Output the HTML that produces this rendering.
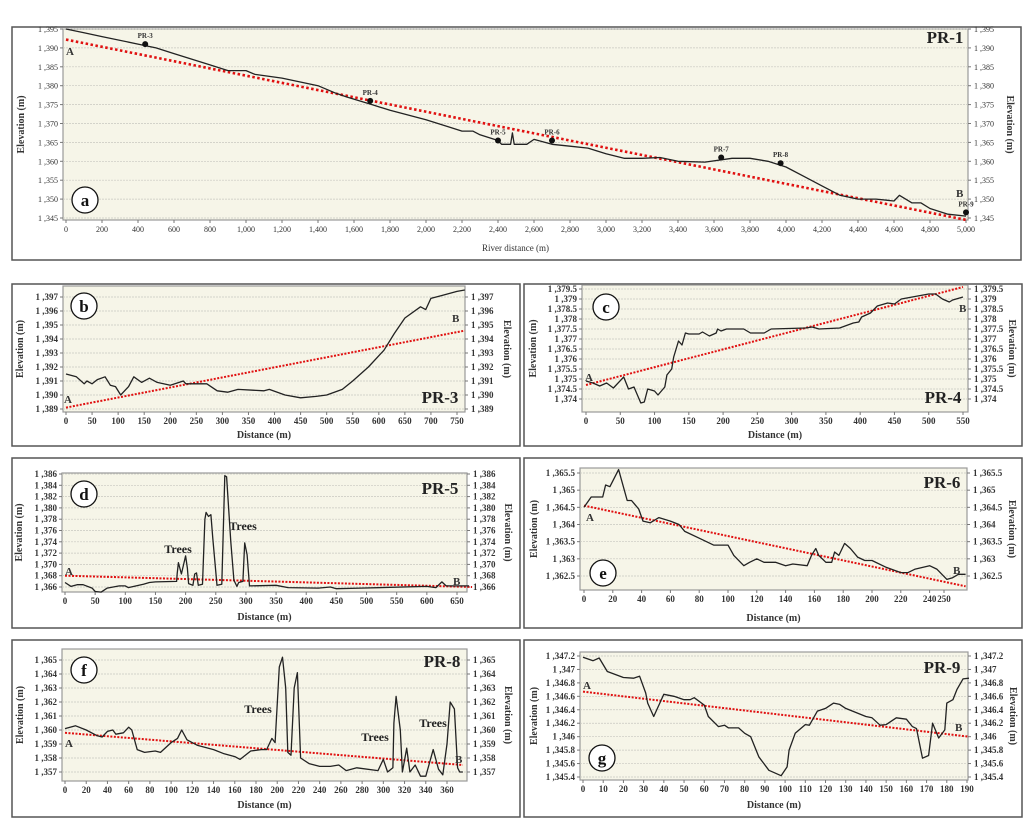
<!DOCTYPE html>
<html><head><meta charset="utf-8">
<style>
body{margin:0;background:#fff;width:1033px;height:828px;overflow:hidden;font-family:"Liberation Serif",serif}
svg{display:block}
</style></head>
<body>
<svg id="fig" width="1033" height="828" xmlns="http://www.w3.org/2000/svg"></svg>
<script>
// ---- data arrays ----
const aDist=[0,100,200,400,500,600,700,800,900,1000,1050,1200,1400,1500,1560,1700,1800,2000,2200,2260,2300,2400,2420,2470,2480,2490,2560,2600,2700,2800,2900,3000,3100,3200,3300,3400,3550,3700,3800,3900,4000,4100,4200,4300,4400,4500,4600,4630,4700,4750,4800,4900,5000];
const aElev=[1395,1394,1393,1391,1390,1388.5,1387,1385.5,1384,1384,1383,1382,1380,1378,1377,1375,1373.5,1371,1368,1368,1367,1365.5,1364.5,1364.5,1367.5,1364.5,1364.5,1365.8,1364.5,1364,1363.5,1362,1360.8,1360.8,1361,1360,1359.8,1360.8,1360.8,1360,1358.5,1356,1353.5,1351,1350,1350,1349.5,1351,1349,1349,1347.5,1346,1345.5];
const aTrendX=[0,5000];const aTrendY=[1392.2,1344.5];
const aSiteNames=["PR-3","PR-4","PR-5","PR-6","PR-7","PR-8","PR-9"];
const aSiteDist=[440,1690,2400,2700,3640,3970,5000];
const aSiteElev=[1391,1376,1365.5,1365.5,1361,1359.5,1346.5];
const aXTicks=[0,200,400,600,800,1000,1200,1400,1600,1800,2000,2200,2400,2600,2800,3000,3200,3400,3600,3800,4000,4200,4400,4600,4800,5000];
const aYTicks=[1345,1350,1355,1360,1365,1370,1375,1380,1385,1390,1395];

const bDist=[0,20,35,40,50,60,75,85,95,105,110,120,130,145,160,175,200,225,230,270,290,310,330,380,390,420,450,480,500,530,550,580,610,630,650,680,690,700,720,750,765];
const bElev=[1391.5,1391.3,1390.8,1391,1390.8,1391.1,1391.3,1390.7,1390.6,1390,1390.2,1390.6,1391.3,1390.9,1391.2,1390.9,1390.7,1391,1390.8,1390.8,1390.3,1390.2,1390.4,1390.3,1390.4,1390,1389.8,1389.9,1390,1390.4,1391,1392,1393.2,1394.4,1395.5,1396.3,1396.1,1396.9,1397.1,1397.4,1397.5];
const bTrendX=[0,765];const bTrendY=[1389.1,1394.6];
const bXTicks=[0,50,100,150,200,250,300,350,400,450,500,550,600,650,700,750];
const bYTicks=[1389,1390,1391,1392,1393,1394,1395,1396,1397];

const cDist=[0,10,20,30,40,55,62,70,80,85,90,100,105,115,118,125,128,135,140,145,150,165,170,180,190,192,197,205,230,240,260,270,320,330,340,370,390,398,402,415,425,440,450,460,500,510,520,530,535,550];
const cElev=[1374.9,1374.8,1374.65,1374.8,1374.55,1375.1,1374.5,1374.6,1373.8,1373.85,1374.5,1374.4,1374.2,1374.6,1375.2,1375.5,1376.1,1376.9,1376.7,1377.3,1377.25,1377.25,1377.35,1377.15,1377.3,1377.5,1377.4,1377.5,1377.5,1377.3,1377.3,1377.5,1377.55,1377.6,1377.5,1377.55,1377.8,1377.85,1378.1,1378.3,1378.65,1378.8,1378.75,1379,1379.25,1379.25,1379,1378.85,1378.95,1379.1];
const cTrendX=[0,550];const cTrendY=[1374.7,1379.6];
const cXTicks=[0,50,100,150,200,250,300,350,400,450,500,550];
const cYTicks=[1374,1374.5,1375,1375.5,1376,1376.5,1377,1377.5,1378,1378.5,1379,1379.5];

const dDist=[0,10,20,30,45,50,60,70,80,90,100,105,130,140,150,185,186,188,193,200,203,205,212,215,218,221,228,232,234,238,242,245,252,260,265,268,275,280,285,288,295,298,302,306,350,370,420,440,450,490,600,615,625,632,670];
const dElev=[1366.8,1366.1,1366.4,1366.4,1365.8,1365.2,1365.1,1365.8,1366,1366.2,1366.2,1365.9,1366.5,1366.8,1366.9,1367,1368.4,1370.3,1368.3,1371.5,1369.3,1366.6,1366.3,1368.3,1368.5,1366.3,1366.5,1378,1379.2,1378.5,1378.8,1374.6,1366.3,1366.5,1385.7,1385.5,1374,1367.2,1366.1,1366.8,1367,1373.8,1371.7,1366.2,1366.3,1365.9,1365.8,1366,1365.7,1365.8,1366.1,1365.9,1366.9,1366.2,1366.2];
const dTrendX=[0,675];const dTrendY=[1368,1366];
const dXTicks=[0,50,100,150,200,250,300,350,400,450,500,550,600,650];
const dYTicks=[1366,1368,1370,1372,1374,1376,1378,1380,1382,1384,1386];

const eDist=[0,5,13,15,18,24,30,33,38,41,46,52,60,66,70,80,90,100,104,111,115,120,125,133,140,145,155,158,161,163,168,172,174,177,181,185,190,195,200,210,220,225,230,240,245,252,256,260,265];
const eElev=[1364.5,1364.8,1364.8,1365.15,1365.1,1365.6,1364.7,1364.7,1364.45,1364.1,1364.05,1364.2,1364.1,1364,1363.8,1363.6,1363.4,1363.4,1363.1,1362.8,1362.9,1363,1362.9,1362.9,1362.8,1362.85,1362.8,1363.1,1363.3,1363.1,1362.9,1362.9,1363.2,1363.1,1363.45,1363.3,1363.05,1362.95,1362.95,1362.75,1362.6,1362.6,1362.7,1362.8,1362.7,1362.4,1362.45,1362.55,1362.55];
const eTrendX=[0,265];const eTrendY=[1364.55,1362.2];
const eXTicks=[0,20,40,60,80,100,120,140,160,180,200,220,240,250];
const eYTicks=[1362.5,1363,1363.5,1364,1364.5,1365,1365.5];

const fDist=[0,10,20,30,35,40,45,48,55,60,63,68,75,85,90,100,106,110,115,125,140,150,160,165,175,185,190,195,198,202,205,208,210,213,216,219,222,230,240,250,258,265,275,295,300,304,309,310,312,316,318,322,325,330,335,340,347,352,356,360,363,367,370,372,375];
const fElev=[1360.1,1360.3,1360,1359.6,1359.5,1359.9,1360,1359.7,1359.8,1360.2,1360,1358.6,1358.4,1358.5,1358.4,1359.1,1359.4,1360,1359.3,1358.9,1358.6,1358.3,1358.1,1357.9,1358.5,1358.6,1358.6,1359.4,1359.1,1364.5,1365.2,1363,1358.4,1358.2,1363,1364.1,1358,1357.6,1357.4,1357.4,1357.5,1357.1,1357.3,1357.1,1357.9,1357,1357.3,1360.5,1362.4,1360,1357,1358.7,1357,1357.5,1356.7,1356.7,1358.6,1357.2,1356.8,1359,1362,1361.5,1357.3,1357,1357];
const fTrendX=[0,375];const fTrendY=[1359.8,1357.5];
const fXTicks=[0,20,40,60,80,100,120,140,160,180,200,220,240,260,280,300,320,340,360];
const fYTicks=[1357,1358,1359,1360,1361,1362,1363,1364,1365];

const gDist=[0,5,8,12,20,25,28,31,32,35,38,40,45,50,53,55,60,62,67,70,72,77,80,83,87,92,98,101,102,105,110,112,116,120,124,127,130,140,143,147,150,155,160,163,165,168,171,173,176,179,180,183,185,188,191];
const gElev=[1347.18,1347.13,1347.17,1346.97,1346.88,1346.87,1346.9,1346.65,1346.5,1346.3,1346.5,1346.63,1346.6,1346.55,1346.55,1346.58,1346.47,1346.3,1346.15,1346.17,1346.13,1346.13,1346.05,1346,1345.7,1345.5,1345.42,1345.55,1345.8,1346.05,1346.18,1346.17,1346.38,1346.42,1346.5,1346.48,1346.42,1346.3,1346.28,1346.17,1346.18,1346.28,1346.26,1346.15,1346.12,1345.68,1345.72,1346.2,1345.98,1346.1,1346.5,1346.55,1346.7,1346.86,1346.87];
const gTrendX=[0,191];const gTrendY=[1346.67,1346.0];
const gXTicks=[0,10,20,30,40,50,60,70,80,90,100,110,120,130,140,150,160,170,180,190];
const gYTicks=[1345.4,1345.6,1345.8,1346,1346.2,1346.4,1346.6,1346.8,1347,1347.2];

// ---- drawing ----
const NS="http://www.w3.org/2000/svg";
const svg=document.getElementById('fig');
function mk(tag,attrs,parent,text){const e=document.createElementNS(NS,tag);for(const k in attrs)e.setAttribute(k,attrs[k]);if(text!==undefined)e.textContent=text;(parent||svg).appendChild(e);return e;}
function fmt(v){let s=(Math.round((v-1000)*10)/10).toString();return "1 ,"+s;}

function panel(c){
  const g=mk('g',{});
  
  
  const box=mk('rect',{x:c.box[0],y:c.box[1],width:c.box[2]-c.box[0],height:c.box[3]-c.box[1],fill:'#fff',stroke:'#555','stroke-width':1.5},g);
  
  
  const [pl,pt,pr,pb]=c.plot;
  const bg=mk('rect',{x:pl,y:pt,width:pr-pl,height:pb-pt,fill:'#f6f5e8',stroke:'#999','stroke-width':1.2},g);
  
  
  const sx=v=>c.x0+(v-c.xd[0])/(c.xd[1]-c.xd[0])*(c.x1-c.x0);
  const sy=v=>c.y0+(v-c.yd[0])/(c.yd[1]-c.yd[0])*(c.y1-c.y0);
  const fs=c.fs||9;
  c.yt.forEach(v=>{
    const y=sy(v);
    mk('line',{x1:pl,x2:pr,y1:y,y2:y,stroke:'#c8c8c0','stroke-width':0.7,'stroke-dasharray':'2,1'},g);
    mk('line',{x1:pl-3,x2:pl,y1:y,y2:y,stroke:'#777'},g);
    mk('line',{x1:pr,x2:pr+3,y1:y,y2:y,stroke:'#777'},g);
    const t1=mk('text',{x:pl-5,y:y+3,'font-size':fs,'text-anchor':'end','font-weight':c.bold?'bold':'normal',fill:'#333'},g,fmt(v));
    
    
    const t2=mk('text',{x:pr+6,y:y+3,'font-size':fs,'font-weight':c.bold?'bold':'normal',fill:'#333'},g,fmt(v));
    
    
  });
  c.xt.forEach(v=>{
    const x=sx(v);
    mk('line',{x1:x,x2:x,y1:pb,y2:pb+3,stroke:'#777'},g);
    const t=mk('text',{x:x,y:pb+12,'font-size':fs,'text-anchor':'middle','font-weight':c.bold?'bold':'normal',fill:'#333'},g,v>=1000?v.toLocaleString('en-US'):String(v));
    
    
  });
  // trend
  const tr=mk('line',{x1:sx(c.tx[0]),y1:sy(c.ty[0]),x2:sx(c.tx[1]),y2:sy(c.ty[1]),stroke:'#e01010','stroke-width':c.id==='a'?2.6:2,'stroke-dasharray':c.id==='a'?'2.5,2.5':'2,1.5'},g);
  
  
  const pts=c.dx.map((d,i)=>sx(d).toFixed(1)+','+sy(c.dy[i]).toFixed(1)).join(' ');
  const pl2=mk('polyline',{points:pts,fill:'none',stroke:'#222','stroke-width':1.3,'stroke-linejoin':'round'},g);
  
  
  // axis titles
  const xt=mk('text',{x:(pl+pr)/2,y:c.xtY,'font-size':c.id==='a'?9:10,'text-anchor':'middle','font-weight':c.id==='a'?'normal':'bold',fill:'#333'},g,c.xTitle);
  
  
  const my=(pt+pb)/2;
  const yl=mk('text',{x:0,y:0,transform:`translate(${c.ylX},${my}) rotate(-90)`,'font-size':10,'text-anchor':'middle','font-weight':'bold',fill:'#333'},g,'Elevation (m)');
  
  
  const yr=mk('text',{x:0,y:0,transform:`translate(${c.yrX},${my}) rotate(90)`,'font-size':10,'text-anchor':'middle','font-weight':'bold',fill:'#333'},g,'Elevation (m)');
  
  
  // panel letter
  const ci=mk('circle',{cx:c.circ[0],cy:c.circ[1],r:13,fill:'#fff',stroke:'#111','stroke-width':1.3},g);
  
  
  const lt=mk('text',{x:c.circ[0],y:c.circ[1]+6,'font-size':17,'text-anchor':'middle','font-weight':'bold',fill:'#111'},g,c.id);
  
  
  const pt2=mk('text',{x:c.title[0],y:c.title[1],'font-size':17,'text-anchor':'middle','font-weight':'bold',fill:'#222'},g,c.name);
  
  
  const la=mk('text',{x:c.A[0],y:c.A[1],'font-size':11,'font-weight':'bold',fill:'#333'},g,'A');
  
  
  const lb=mk('text',{x:c.B[0],y:c.B[1],'font-size':11,'font-weight':'bold',fill:'#333'},g,'B');
  
  
  (c.trees||[]).forEach(p=>{
    const t=mk('text',{x:p[0],y:p[1]+4,'font-size':12,'text-anchor':'middle','font-weight':'bold',fill:'#222'},g,'Trees');
    
    
  });
  return {g,sx,sy};
}

const pa=panel({id:'a',name:'PR-1',box:[12,27,1021,260],plot:[63,29,968,220],x0:66,x1:966,xd:[0,5000],y0:29,y1:218,yd:[1395,1345],
  xt:aXTicks,yt:aYTicks,dx:aDist,dy:aElev,tx:aTrendX,ty:aTrendY,fs:8,bold:false,xTitle:'River distance (m)',xtY:251,ylX:24,yrX:1007,
  circ:[85,200],title:[945,43],A:[66,55],B:[956,197]});
aSiteNames.forEach((n,i)=>{
  const x=pa.sx(aSiteDist[i]),y=pa.sy(aSiteElev[i]);
  const d=mk('circle',{cx:x,cy:y,r:3,fill:'#111'},pa.g);
  
  
  const t=mk('text',{x:x,y:y-6,'font-size':7,'text-anchor':'middle','font-weight':'bold',fill:'#333'},pa.g,n);
  
  
});
panel({id:'b',name:'PR-3',box:[12,284,520,446],plot:[63,286,465,412],x0:66,x1:457,xd:[0,750],y0:409,y1:297,yd:[1389,1397],
  xt:bXTicks,yt:bYTicks,dx:bDist,dy:bElev,tx:bTrendX,ty:bTrendY,bold:true,xTitle:'Distance (m)',xtY:438,ylX:23,yrX:504,
  circ:[84,306],title:[440,403],A:[64,403],B:[452,322]});
panel({id:'c',name:'PR-4',box:[524,284,1022,446],plot:[582,285,968,412],x0:586,x1:963,xd:[0,550],y0:399,y1:289,yd:[1374,1379.5],
  xt:cXTicks,yt:cYTicks,dx:cDist,dy:cElev,tx:cTrendX,ty:cTrendY,bold:true,xTitle:'Distance (m)',xtY:438,ylX:536,yrX:1009,
  circ:[606,307],title:[943,403],A:[585,381],B:[959,312]});
panel({id:'d',name:'PR-5',box:[12,458,520,628],plot:[62,473,467,592],x0:65,x1:457,xd:[0,650],y0:587,y1:474,yd:[1366,1386],
  xt:dXTicks,yt:dYTicks,dx:dDist,dy:dElev,tx:dTrendX,ty:dTrendY,bold:true,xTitle:'Distance (m)',xtY:620,ylX:22,yrX:505,
  circ:[84,494],title:[440,494],A:[65,575],B:[453,585],trees:[[178,549],[243,526]]});
panel({id:'e',name:'PR-6',box:[524,458,1022,628],plot:[580,468,967,590],x0:584,x1:944,xd:[0,250],y0:576,y1:473,yd:[1362.5,1365.5],
  xt:eXTicks.slice(0,13).concat([250]).filter((v,i,a)=>a.indexOf(v)===i),yt:eYTicks,dx:eDist,dy:eElev,tx:eTrendX,ty:eTrendY,bold:true,xTitle:'Distance (m)',xtY:621,ylX:537,yrX:1009,
  circ:[603,573],title:[942,488],A:[586,521],B:[953,574]});
panel({id:'f',name:'PR-8',box:[12,640,520,817],plot:[62,649,467,781],x0:65,x1:447,xd:[0,360],y0:772,y1:660,yd:[1357,1365],
  xt:fXTicks,yt:fYTicks,dx:fDist,dy:fElev,tx:fTrendX,ty:fTrendY,bold:true,xTitle:'Distance (m)',xtY:808,ylX:23,yrX:505,
  circ:[84,670],title:[442,667],A:[65,747],B:[455,763],trees:[[258,709],[375,737],[433,723]]});
panel({id:'g',name:'PR-9',box:[524,640,1022,817],plot:[580,652,968,780],x0:583,x1:967,xd:[0,190],y0:777,y1:656,yd:[1345.4,1347.2],
  xt:gXTicks,yt:gYTicks,dx:gDist,dy:gElev,tx:gTrendX,ty:gTrendY,bold:true,xTitle:'Distance (m)',xtY:808,ylX:537,yrX:1010,
  circ:[602,758],title:[942,673],A:[583,689],B:[955,731]});
</script>
</body></html>
